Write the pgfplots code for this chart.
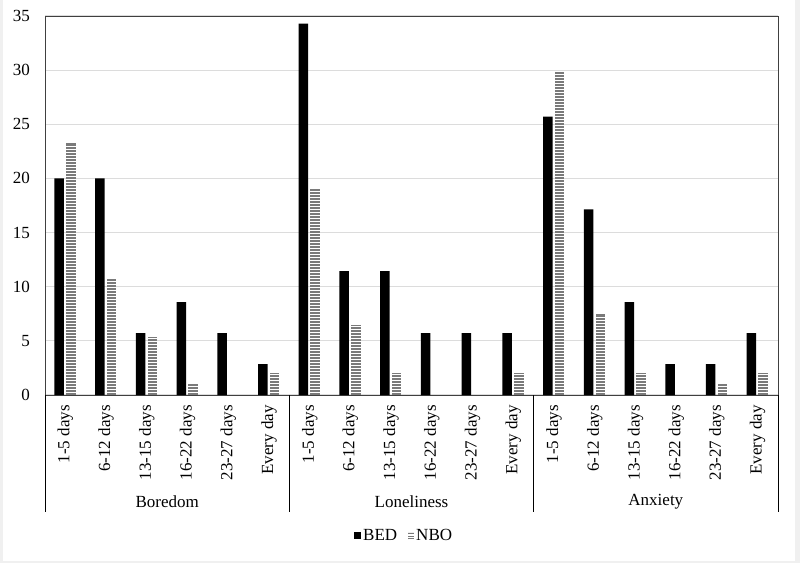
\documentclass[border=0pt]{standalone}
\usepackage{fontspec}
\setmainfont{Liberation Serif}
\usepackage{pgfplots}
\pgfplotsset{compat=1.18}
\usepackage{pgfplotstable}

\definecolor{stripe}{HTML}{7A7A7A}
\definecolor{gridc}{HTML}{DCDCDC}
\definecolor{framec}{HTML}{404040}

\pgfplotstableread{
x BED NBO
0 20.00 23.3
1 20.00 10.7
2 5.71 5.4
3 8.57 1.1
4 5.71 0
5 2.86 2.0
6 34.29 19.0
7 11.43 6.5
8 11.43 2.0
9 5.71 0
10 5.71 0
11 5.71 2.0
12 25.71 29.9
13 17.14 7.5
14 8.57 2.0
15 2.86 0
16 2.86 1.1
17 5.71 2.0
}\datatable

\begin{document}
\begin{tikzpicture}
\fill[gray!12] (0,0) rectangle (800pt,563pt);
\fill[white] (3pt,2pt) rectangle (795pt,563pt);
\begin{axis}[
    at={(45pt,168pt)}, anchor=south west,
    scale only axis, width=733pt, height=379pt,
    clip=false,
    ymin=0, ymax=35, ytick={0,5,...,35},
    xmin=-0.5, xmax=17.5,
    xtick=data,
    xticklabels={1-5 days,6-12 days,13-15 days,16-22 days,23-27 days,Every day,
                 1-5 days,6-12 days,13-15 days,16-22 days,23-27 days,Every day,
                 1-5 days,6-12 days,13-15 days,16-22 days,23-27 days,Every day},
    major tick length=0pt,
    ymajorgrids, grid style={draw=gridc, line width=1.2pt},
    axis line style={draw=framec, line width=0.9pt},
    /pgf/number format/assume math mode=true,
    tick label style={font=\fontsize{17}{20}\selectfont},
    yticklabel style={inner sep=0pt, xshift=-15pt},
    xticklabel style={rotate=90, anchor=east, inner sep=0pt},
    xticklabel shift=10pt,
    legend style={at={(0.49,-0.372)}, anchor=center, draw=none, fill=none,
        legend columns=2, font=\fontsize{17}{20}\selectfont,
        /tikz/every even column/.append style={column sep=9pt},
        inner sep=0pt},
]
\addplot[ybar, bar width=9.5pt, fill=black, draw=none, bar shift=-6.2pt,
    legend image code/.code={\fill[black] (0pt,-3.5pt) rectangle (7pt,3.5pt);}]
    table[x=x, y=BED] {\datatable};
\addlegendentry{BED}
% striped bars: thick dashed combs give the horizontal lines
\addplot[ycomb, no markers, draw=stripe, line width=9.5pt,
    dash pattern=on 1.7pt off 1.3pt, xshift=5.5pt,
    legend image code/.code={\draw[stripe, line width=6pt, dash pattern=on 1.3pt off 1.2pt] (3pt,-3.5pt) -- (3pt,4pt);}]
    table[x=x, y=NBO] {\datatable};
\addlegendentry{NBO}

% group separators below the axis
\draw[black, line width=0.9pt] (axis cs:-0.5,0) -- ([yshift=-117pt]axis cs:-0.5,0);
\draw[black, line width=0.9pt] (axis cs:5.5,0) -- ([yshift=-117pt]axis cs:5.5,0);
\draw[black, line width=0.9pt] (axis cs:11.5,0) -- ([yshift=-117pt]axis cs:11.5,0);
\draw[black, line width=0.9pt] (axis cs:17.5,0) -- ([yshift=-117pt]axis cs:17.5,0);
\node[font=\fontsize{17}{20}\selectfont] at ([yshift=-107pt]axis cs:2.5,0) {Boredom};
\node[font=\fontsize{17}{20}\selectfont] at ([yshift=-107pt]axis cs:8.5,0) {Loneliness};
\node[font=\fontsize{17}{20}\selectfont] at ([yshift=-107pt]axis cs:14.5,0) {Anxiety};
\end{axis}
\end{tikzpicture}
\end{document}
